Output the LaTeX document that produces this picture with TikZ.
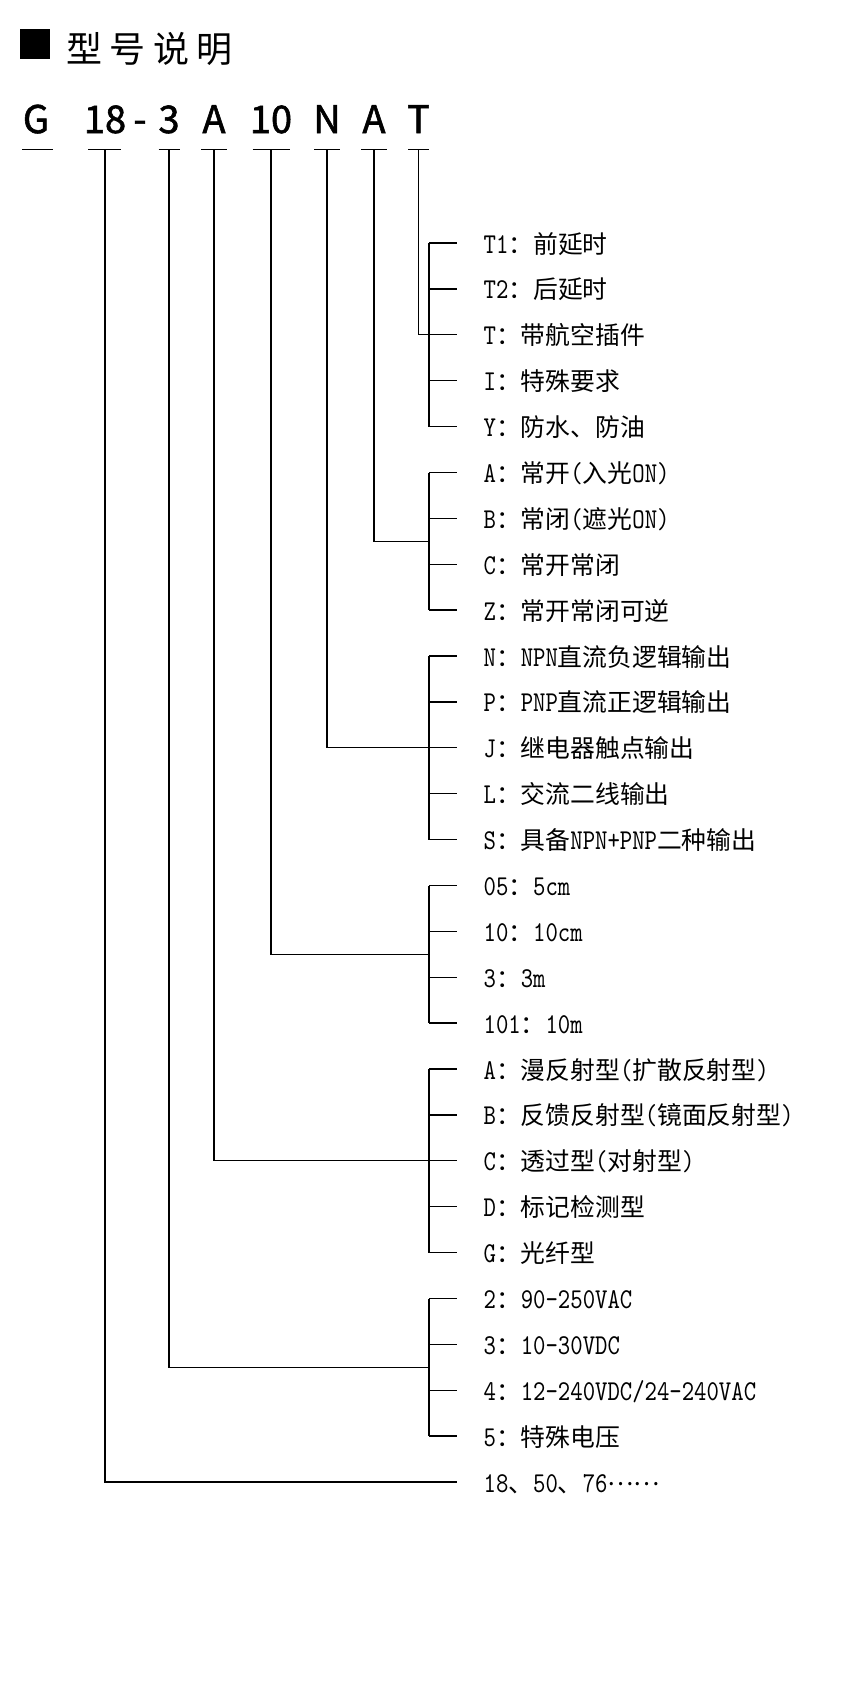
\documentclass[tikz,border=0pt]{standalone}
\usepackage{fontspec}
\newfontfamily\zhf{Noto Sans CJK SC}
\newfontfamily\codef[FakeBold=1.5]{Noto Sans CJK SC}
\newfontfamily\enf[FakeStretch=0.82,Scale=1.16]{lmmono10-regular.otf}
\newcommand\entx[1]{{\enf #1}}
\begin{document}
\begin{tikzpicture}[x=1pt,y=-1pt,line width=1.3pt,
  item/.style={anchor=west, inner xsep=26pt, inner ysep=0pt, text height=20pt, text depth=0pt,
    font=\zhf\fontsize{24.8}{24.8}\selectfont},
  code/.style={anchor=base, inner sep=0pt, text depth=16pt, font=\codef\fontsize{38}{38}\selectfont},
  wire/.style={draw=black, line width=1.3pt}]
\useasboundingbox (0,0) rectangle (850,1686);
% title
\node[fill=black, minimum size=30pt, inner sep=0pt] (sq) at (34.5,44.5) {};
\node[anchor=base west, inner sep=0pt, font=\zhf\fontsize{36}{36}\selectfont] (title) at (65.5,62.5)
  {型\hspace{7.5pt}号\hspace{7.5pt}说\hspace{7.5pt}明};
% model code
\node[code] (cG)  at (36,133) {G};
\node[code] (c18) at (105,133) {18};
\node[code] (cdash) at (140,133) {-};
\node[code] (c3)  at (169,133) {3};
\node[code] (cA)  at (214,133) {A};
\node[code] (c10) at (271,133) {10};
\node[code] (cN)  at (327,133) {N};
\node[code] (cA2) at (374,133) {A};
\node[code] (cT)  at (418.5,133) {T};
\draw[wire] ([xshift=-14pt]cG.south) -- ([xshift=17pt]cG.south);
\draw[wire] ([xshift=-17pt]c18.south) -- ([xshift=16pt]c18.south);
\draw[wire] ([xshift=-10.5pt]c3.south) -- ([xshift=10.5pt]c3.south);
\draw[wire] ([xshift=-13pt]cA.south) -- ([xshift=13pt]cA.south);
\draw[wire] ([xshift=-18.5pt]c10.south) -- ([xshift=18.5pt]c10.south);
\draw[wire] ([xshift=-13pt]cN.south) -- ([xshift=13pt]cN.south);
\draw[wire] ([xshift=-13pt]cA2.south) -- ([xshift=13pt]cA2.south);
\draw[wire] ([xshift=-10.5pt]cT.south) -- ([xshift=10.5pt]cT.south);
% rows
\node[item] (r0)  at (457,243.0)  {\entx{T1}：前延时};
\node[item] (r1)  at (457,288.9)  {\entx{T2}：后延时};
\node[item] (r2)  at (457,334.8)  {\entx{T}：带航空插件};
\node[item] (r3)  at (457,380.7)  {\entx{I}：特殊要求};
\node[item] (r4)  at (457,426.6)  {\entx{Y}：防水、防油};
\node[item] (r5)  at (457,472.5)  {\entx{A}：常开\entx{(}入光\entx{ON)}};
\node[item] (r6)  at (457,518.3)  {\entx{B}：常闭\entx{(}遮光\entx{ON)}};
\node[item] (r7)  at (457,564.2)  {\entx{C}：常开常闭};
\node[item] (r8)  at (457,610.1)  {\entx{Z}：常开常闭可逆};
\node[item] (r9)  at (457,656.0)  {\entx{N}：\entx{NPN}直流负逻辑输出};
\node[item] (r10) at (457,701.9)  {\entx{P}：\entx{PNP}直流正逻辑输出};
\node[item] (r11) at (457,747.8)  {\entx{J}：继电器触点输出};
\node[item] (r12) at (457,793.7)  {\entx{L}：交流二线输出};
\node[item] (r13) at (457,839.6)  {\entx{S}：具备\entx{NPN+PNP}二种输出};
\node[item] (r14) at (457,885.5)  {\entx{05}：\entx{5cm}};
\node[item] (r15) at (457,931.4)  {\entx{10}：\entx{10cm}};
\node[item] (r16) at (457,977.2)  {\entx{3}：\entx{3m}};
\node[item] (r17) at (457,1023.1) {\entx{101}：\entx{10m}};
\node[item] (r18) at (457,1069.0) {\entx{A}：漫反射型\entx{(}扩散反射型\entx{)}};
\node[item] (r19) at (457,1114.9) {\entx{B}：反馈反射型\entx{(}镜面反射型\entx{)}};
\node[item] (r20) at (457,1160.8) {\entx{C}：透过型\entx{(}对射型\entx{)}};
\node[item] (r21) at (457,1206.7) {\entx{D}：标记检测型};
\node[item] (r22) at (457,1252.6) {\entx{G}：光纤型};
\node[item] (r23) at (457,1298.5) {\entx{2}：\entx{90-250VAC}};
\node[item] (r24) at (457,1344.4) {\entx{3}：\entx{10-30VDC}};
\node[item] (r25) at (457,1390.3) {\entx{4}：\entx{12-240VDC/24-240VAC}};
\node[item] (r26) at (457,1436.1) {\entx{5}：特殊电压};
\node[item] (r27) at (457,1482.0) {\entx{18}、\entx{50}、\entx{76}\raisebox{7pt}{……}};
% bracket x and join points
\coordinate (bx) at (429,0);
\coordinate (jT)  at (429,334.8);
\coordinate (jA2) at (429,541.3);
\coordinate (jN)  at (429,747.8);
\coordinate (j10) at (429,954.3);
\coordinate (jA)  at (429,1160.8);
\coordinate (j3)  at (429,1367.3);
% brackets
\draw[wire] (r0.west -| bx) -- (r4.west -| bx);
\draw[wire] (r5.west -| bx) -- (r8.west -| bx);
\draw[wire] (r9.west -| bx) -- (r13.west -| bx);
\draw[wire] (r14.west -| bx) -- (r17.west -| bx);
\draw[wire] (r18.west -| bx) -- (r22.west -| bx);
\draw[wire] (r23.west -| bx) -- (r26.west -| bx);
\foreach \i in {0,...,26} {\draw[wire] (r\i.west -| bx) -- (r\i.west);}
% code leads
\draw[wire] (cT.south) |- (jT);
\draw[wire] (cA2.south) |- (jA2);
\draw[wire] (cN.south) |- (jN);
\draw[wire] (c10.south) |- (j10);
\draw[wire] (cA.south) |- (jA);
\draw[wire] (c3.south) |- (j3);
\draw[wire] (c18.south) |- (r27.west);
\end{tikzpicture}
\end{document}
